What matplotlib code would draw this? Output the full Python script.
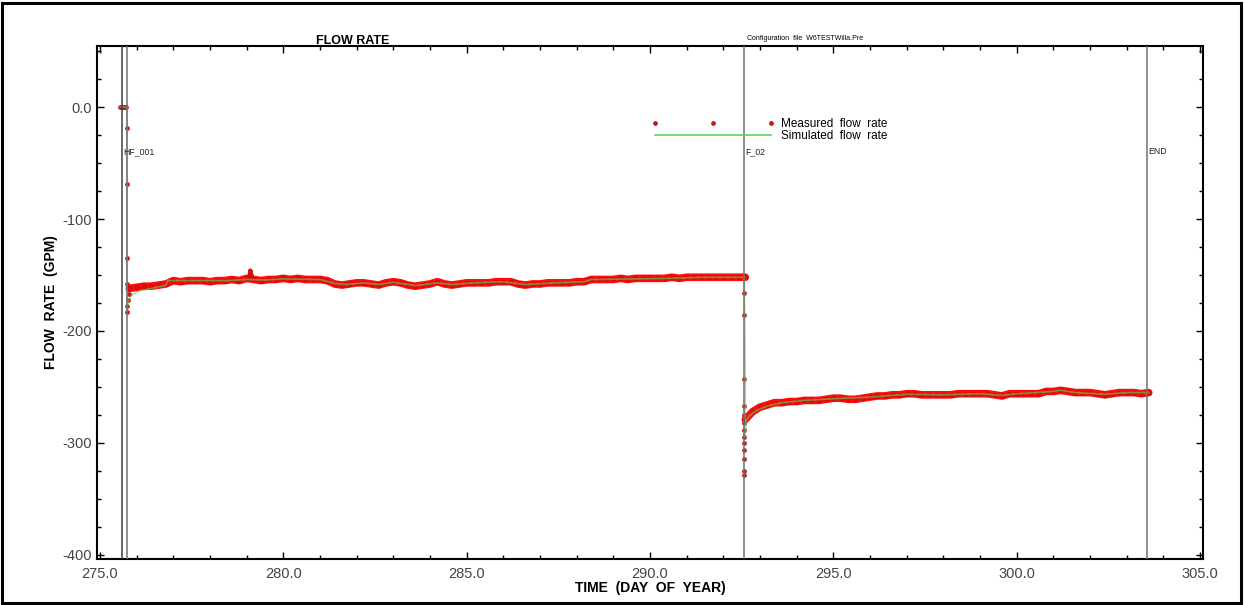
import numpy as np
import matplotlib as mpl

mpl.use("Agg")

import matplotlib.pyplot as plt
from matplotlib.ticker import FixedLocator, FixedFormatter, MultipleLocator

###############################################################################

# values (day of year, GPM)

# start-up transient of the measured flow rate
start_days = [275.55, 275.60, 275.64, 275.68, 275.72, 275.74, 275.74, 275.74,
              275.74, 275.745, 275.75, 275.76, 275.78]
start_flow = [0.0, 0.0, 0.0, 0.0, 0.0, -19, -69, -135,
              -158, -183, -178, -172, -167]

# first step, every 0.2 day from 275.8
seg1_start = 275.8
seg1_flow = [
    -162, -161, -160, -160, -159, -158, -155, -156, -155, -155,  # 275.8 - 277.6
    -155, -156, -155, -155, -154, -155, -153, -154, -155, -154,  # 277.8 - 279.6
    -154, -153, -154, -153, -154, -154, -154, -155, -158, -159,  # 279.8 - 281.6
    -158, -157, -157, -158, -159, -157, -156, -157, -159, -160,  # 281.8 - 283.6
    -159, -158, -156, -158, -159, -158, -157, -157, -157, -157,  # 283.8 - 285.6
    -156, -156, -156, -158, -159, -158, -158, -157, -157, -157,  # 285.8 - 287.6
    -157, -156, -156, -154, -154, -154, -154, -153, -154, -153,  # 287.8 - 289.6
    -153, -153, -153, -153, -152, -153, -152, -152, -152, -152,  # 289.8 - 291.6
    -152, -152, -152, -152, -152,                                # 291.8 - 292.6
]

# short spike
spike_days = [279.08, 279.1, 279.12]
spike_flow = [-150, -146, -150]

# drop at the rate change
drop_days = [292.57] * 13
drop_flow = [-166, -186, -243, -267, -275, -282, -288, -295, -300, -306,
             -314, -325, -329]

# second step, every 0.2 day from 292.6
seg2_start = 292.6
seg2_flow = [
    -279, -272, -268, -266, -264, -264, -263, -263, -262, -262,  # 292.6 - 294.4
    -262, -261, -260, -260, -261, -261, -260, -259, -258, -258,  # 294.6 - 296.4
    -257, -257, -256, -256, -257, -257, -257, -257, -257, -256,  # 296.6 - 298.4
    -256, -256, -256, -256, -257, -258, -256, -256, -256, -256,  # 298.6 - 300.4
    -256, -254, -254, -253, -254, -255, -255, -255, -256, -257,  # 300.6 - 302.4
    -256, -255, -255, -255, -256, -255,                          # 302.6 - 303.6
]

# simulated flow rate
sim_days = [275.55, 275.74, 275.74, 275.78, 275.9, 276.1, 276.4, 276.7, 276.8,
            276.85, 277.5, 278.5, 279.0, 279.5, 280.0, 281.0, 281.4, 281.7,
            282.2, 282.6, 283.0, 283.6, 284.2, 284.6, 285.2, 286.0, 286.6,
            287.4, 288.2, 288.4, 289.5, 290.5, 291.5, 292.57,
            292.6, 292.6, 292.61, 292.7, 292.9, 293.2, 293.6, 294.2, 295.0,
            296.0, 297.0, 298.0, 299.0, 299.6, 300.0, 300.8, 301.2, 301.6,
            302.4, 303.0, 303.6]
sim_flow = [0.0, 0.0, -182, -172, -167, -164, -162, -160, -159,
            -155, -155, -155, -154, -154.5, -153.5, -154, -157.5, -158.5,
            -157, -158.5, -156.5, -159.5, -157, -158.5, -157, -156, -158.5,
            -157, -156, -154, -153.5, -153, -152, -152,
            -245, -295, -281, -276, -271, -267, -264, -262, -260.5,
            -259, -256.5, -257, -256, -257.5, -256, -254.5, -253, -255,
            -256.5, -255, -255]

# event lines
event_days = [275.60, 275.74, 292.57, 303.56]
event_labels = ["", "HF_001", "F_02", "END"]

x_ticks = [275, 280, 285, 290, 295, 300, 305]
x_tick_labels = ["275.0", "280.0", "285.0", "290.0", "295.0", "300.0", "305.0"]
y_ticks = [-400, -300, -200, -100, 0]
y_tick_labels = ["-400", "-300", "-200", "-100", "0.0"]

###############################################################################

plt.rcParams["font.family"] = ["Liberation Sans", "DejaVu Sans"]

W, H = 1244, 605
fig = plt.figure(figsize=(W / 100, H / 100), dpi=100)

# outer frame
fig.add_artist(
    plt.Rectangle(
        (2 / W, 2 / H), 1239 / W, 600 / H,
        transform=fig.transFigure, fill=False, lw=2.2, ec="black",
    )
)

ax = fig.add_axes([97 / W, 1 - 559 / H, (1203 - 97) / W, (559 - 46) / H])

red = "#ff0a0a"
seg1_days = seg1_start + 0.2 * np.arange(len(seg1_flow))
seg2_days = seg2_start + 0.2 * np.arange(len(seg2_flow))

# measured band
ax.plot(seg1_days, seg1_flow, color=red, lw=5.5, solid_capstyle="round", zorder=2)
ax.plot(seg2_days, seg2_flow, color=red, lw=5.5, solid_capstyle="round", zorder=2)
ax.plot(spike_days, spike_flow, color=red, lw=3, zorder=2)

meas_days = np.concatenate([start_days, seg1_days, spike_days, drop_days, seg2_days])
meas_flow = np.concatenate([start_flow, seg1_flow, spike_flow, drop_flow, seg2_flow])
ax.plot(
    meas_days, meas_flow, "o", ls="none",
    ms=2.8, mfc="#dd1111", mec="#b01010", mew=0.5,
    label="Measured  flow  rate", zorder=3,
)

ax.plot(
    sim_days, sim_flow, color="#5fd35f", lw=1.2, alpha=0.6,
    label="Simulated  flow  rate", zorder=4,
)

# event lines, drawn over the simulated curve
for day, name in zip(event_days, event_labels):
    ax.axvline(day, color="#707070" if name else "#404040", lw=1.1, zorder=5)
for day, name in zip(event_days, event_labels):
    if name:
        lx = day + 0.03 if name != "HF_001" else event_days[0] + 0.03
        ax.text(lx, -40, name, fontsize=6.3, va="center", ha="left",
                color="#222222", zorder=6)

ax.set_xlim(274.92, 305.08)
ax.set_ylim(-403.6, 54.5)

ax.xaxis.set_major_locator(FixedLocator(x_ticks))
ax.xaxis.set_major_formatter(FixedFormatter(x_tick_labels))
ax.yaxis.set_major_locator(FixedLocator(y_ticks))
ax.yaxis.set_major_formatter(FixedFormatter(y_tick_labels))
ax.xaxis.set_minor_locator(MultipleLocator(1))
ax.yaxis.set_minor_locator(MultipleLocator(25))

ax.tick_params(which="both", direction="in", top=True, right=True,
               labelsize=10.5, labelcolor="#444444", width=1)
ax.tick_params(which="major", length=5)
ax.tick_params(which="minor", length=3)
ax.tick_params(axis="x", pad=6)
ax.tick_params(axis="y", pad=4)

for s in ax.spines.values():
    s.set_linewidth(1.5)

ax.set_xlabel("TIME  (DAY  OF  YEAR)", fontsize=10, fontweight="bold", labelpad=0)
ax.set_ylabel("FLOW  RATE  (GPM)", fontsize=10, fontweight="bold", labelpad=3)

fig.text(353 / W, 1 - 44 / H, "FLOW RATE", ha="center", va="baseline",
         fontsize=9, fontweight="bold")
fig.text(805 / W, 1 - 38 / H, "Configuration  file  W6TESTWilla.Pre",
         ha="center", va="center", fontsize=5)

leg = ax.legend(
    loc="upper left",
    bbox_to_anchor=((651 - 97) / 1106, (559 - 118) / 513),
    frameon=False, fontsize=8.5, numpoints=3, handlelength=10.5,
    handletextpad=0.5, borderpad=0, borderaxespad=0, labelspacing=0.0,
)
leg.legend_handles[1].set_alpha(1)

plt.savefig("out.png", dpi=100)
plt.close()
